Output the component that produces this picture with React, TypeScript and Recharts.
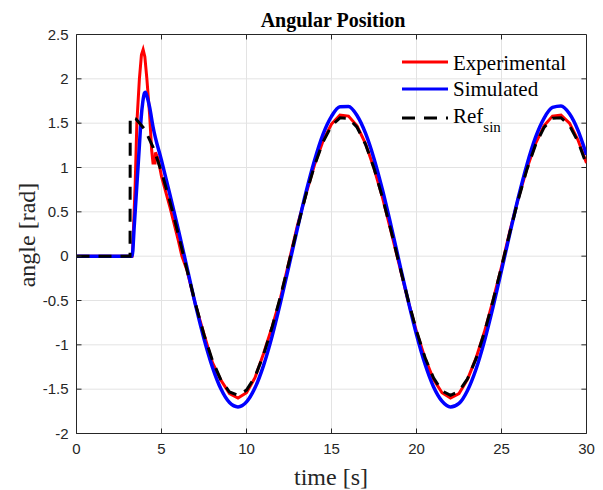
import React from "react";
import { LineChart, Line, XAxis, YAxis, CartesianGrid, ReferenceLine } from "recharts";

// ---- data ----
const xTicks = [0, 5, 10, 15, 20, 25, 30];
const yTicks = [-2, -1.5, -1, -0.5, 0, 0.5, 1, 1.5, 2, 2.5];

const refTime = [0, 3.15, 3.16, 3.5, 4.0, 4.5, 5.0, 5.5, 6.0, 6.5, 7.0, 7.5, 8.0, 8.5, 9.0, 9.5, 10.0, 10.5, 11.0, 11.5, 12.0, 12.5, 13.0, 13.5, 14.0, 14.5, 15.0, 15.5, 16.0, 16.5, 17.0, 17.5, 18.0, 18.5, 19.0, 19.5, 20.0, 20.5, 21.0, 21.5, 22.0, 22.5, 23.0, 23.5, 24.0, 24.5, 25.0, 25.5, 26.0, 26.5, 27.0, 27.5, 28.0, 28.5, 29.0, 29.5, 30.0];
const refAngle = [0, 0, 1.57, 1.547, 1.434, 1.231, 0.951, 0.613, 0.236, -0.156, -0.537, -0.886, -1.179, -1.398, -1.532, -1.57, -1.511, -1.36, -1.113, -0.805, -0.452, -0.067, 0.324, 0.695, 1.022, 1.287, 1.471, 1.56, 1.555, 1.454, 1.262, 0.992, 0.66, 0.288, -0.104, -0.488, -0.842, -1.143, -1.373, -1.519, -1.57, -1.524, -1.383, -1.158, -0.858, -0.503, -0.119, 0.273, 0.647, 0.981, 1.255, 1.45, 1.555, 1.562, 1.473, 1.293, 1.032];

const simTime = [0, 3.27, 3.4, 3.55, 3.7, 3.8, 3.9, 4.0, 4.05, 4.15, 4.3, 4.5, 5.0, 5.5, 6.0, 6.5, 7.0, 7.5, 8.0, 8.5, 9.0, 9.5, 10.0, 10.5, 11.0, 11.5, 12.0, 12.5, 13.0, 13.5, 14.0, 14.5, 15.0, 15.5, 16.0, 16.5, 17.0, 17.5, 18.0, 18.5, 19.0, 19.5, 20.0, 20.5, 21.0, 21.5, 22.0, 22.5, 23.0, 23.5, 24.0, 24.5, 25.0, 25.5, 26.0, 26.5, 27.0, 27.5, 28.0, 28.5, 29.0, 29.5, 30.0];
const simAngle = [0, 0, 0.35, 0.8, 1.25, 1.55, 1.74, 1.84, 1.85, 1.8, 1.68, 1.46, 1.08, 0.69, 0.29, -0.13, -0.55, -0.931, -1.254, -1.499, -1.651, -1.7, -1.644, -1.485, -1.234, -0.907, -0.522, -0.106, 0.317, 0.721, 1.079, 1.374, 1.577, 1.685, 1.688, 1.587, 1.387, 1.1, 0.746, 0.345, -0.078, -0.496, -0.884, -1.216, -1.472, -1.635, -1.7, -1.66, -1.514, -1.275, -0.955, -0.574, -0.16, 0.262, 0.67, 1.035, 1.339, 1.555, 1.677, 1.694, 1.606, 1.419, 1.143];

const expTime = [0, 3.27, 3.3, 3.45, 3.55, 3.7, 3.82, 3.92, 4.02, 4.14, 4.3, 4.42, 4.5, 4.62, 4.64, 4.8, 5.0, 5.5, 6.0, 6.2, 6.5, 7.0, 7.5, 8.0, 8.5, 9.0, 9.5, 10.0, 10.5, 11.0, 11.5, 12.0, 12.5, 13.0, 13.5, 14.0, 14.5, 15.0, 15.5, 16.0, 16.5, 17.0, 17.5, 18.0, 18.5, 19.0, 19.5, 20.0, 20.5, 21.0, 21.5, 22.0, 22.5, 23.0, 23.5, 24.0, 24.5, 25.0, 25.5, 26.0, 26.5, 27.0, 27.5, 28.0, 28.5, 29.0, 29.5, 30.0];
const expAngle = [0, 0, 0.05, 0.8, 1.5, 2.0, 2.27, 2.33, 2.25, 2.0, 1.6, 1.2, 1.05, 1.05, 1.17, 1.1, 0.9, 0.55, 0.17, 0.0, -0.16, -0.55, -0.88, -1.2, -1.4, -1.55, -1.6, -1.54, -1.37, -1.1, -0.8, -0.47, -0.06, 0.35, 0.7, 1.03, 1.3, 1.49, 1.59, 1.58, 1.47, 1.27, 0.99, 0.66, 0.28, -0.11, -0.5, -0.85, -1.15, -1.39, -1.54, -1.6, -1.55, -1.39, -1.15, -0.85, -0.5, -0.12, 0.29, 0.66, 0.99, 1.27, 1.47, 1.58, 1.59, 1.5, 1.31, 1.05];

const seriesNames = ["Experimental", "Simulated", "Ref"];
const seriesColors = ["#ff0000", "#0000ff", "#000000"];

const refData = refTime.map((t, i) => ({ t, v: refAngle[i] }));
const simData = simTime.map((t, i) => ({ t, v: simAngle[i] }));
const expData = expTime.map((t, i) => ({ t, v: expAngle[i] }));

const serif = "'Liberation Serif', 'Times New Roman', serif";
const sans = "'Liberation Sans', Arial, sans-serif";
const axisColor = "#262626";

export default function App() {
  return (
    <div style={{ position: "absolute", left: 0, top: 0, width: 603, height: 490, background: "#fff" }}>
      <LineChart width={603} height={490} margin={{ top: 34.5, right: 16.5, left: 0.5, bottom: 0.5 }}>
        <CartesianGrid stroke="#e3e3e3" strokeWidth={1} />
        <XAxis
          type="number"
          dataKey="t"
          domain={[0, 30]}
          ticks={xTicks}
          allowDataOverflow
          height={56}
          tickSize={-5}
          tickMargin={15}
          stroke={axisColor}
          tick={{ fill: "#262626", fontSize: 15, fontFamily: sans }}
        />
        <YAxis
          type="number"
          domain={[-2, 2.5]}
          ticks={yTicks}
          allowDataOverflow
          width={76}
          tickSize={-5}
          tickMargin={13}
          stroke={axisColor}
          tick={{ fill: "#262626", fontSize: 15, fontFamily: sans }}
        />
        <ReferenceLine y={2.5} stroke={axisColor} strokeWidth={1} ifOverflow="extendDomain" />
        <ReferenceLine x={30} stroke={axisColor} strokeWidth={1} ifOverflow="extendDomain" />
        {xTicks.slice(1, -1).map((t) => (
          <ReferenceLine key={"tt" + t} segment={[{ x: t, y: 2.5 }, { x: t, y: 2.444 }]} stroke={axisColor} strokeWidth={1} ifOverflow="extendDomain" />
        ))}
        {yTicks.slice(1, -1).map((v) => (
          <ReferenceLine key={"rt" + v} segment={[{ x: 30, y: v }, { x: 29.7, y: v }]} stroke={axisColor} strokeWidth={1} ifOverflow="extendDomain" />
        ))}
        <Line data={expData} dataKey="v" type="linear" stroke={seriesColors[0]} strokeWidth={3} dot={false} isAnimationActive={false} />
        <Line data={simData} dataKey="v" type="monotone" stroke={seriesColors[1]} strokeWidth={3.5} dot={false} isAnimationActive={false} />
        <Line data={refData} dataKey="v" type="linear" stroke={seriesColors[2]} strokeWidth={3} strokeDasharray="13 9" dot={false} isAnimationActive={false} />
        <g>
          <line x1={402} x2={448} y1={62} y2={62} stroke={seriesColors[0]} strokeWidth={3} />
          <text x={453} y={70} fontFamily={serif} fontSize={21} fill="#000">{seriesNames[0]}</text>
          <line x1={402} x2={448} y1={89} y2={89} stroke={seriesColors[1]} strokeWidth={3} />
          <text x={453} y={96} fontFamily={serif} fontSize={21} fill="#000">{seriesNames[1]}</text>
          <line x1={402} x2={448} y1={118} y2={118} stroke={seriesColors[2]} strokeWidth={3} strokeDasharray="13 9" />
          <text x={453} y={123} fontFamily={serif} fontSize={21} fill="#000">
            {seriesNames[2]}
            <tspan fontSize={15} dy={9}>sin</tspan>
          </text>
        </g>
        <text x={333} y={27} textAnchor="middle" fontFamily={serif} fontSize={20} fontWeight="bold" fill="#000">
          Angular Position
        </text>
        <text x={331} y={485} textAnchor="middle" fontFamily={serif} fontSize={24} fill="#262626">
          time [s]
        </text>
        <text x={35} y={235} textAnchor="middle" fontFamily={serif} fontSize={24} fill="#262626" transform="rotate(-90 35 235)">
          angle [rad]
        </text>
      </LineChart>
    </div>
  );
}
